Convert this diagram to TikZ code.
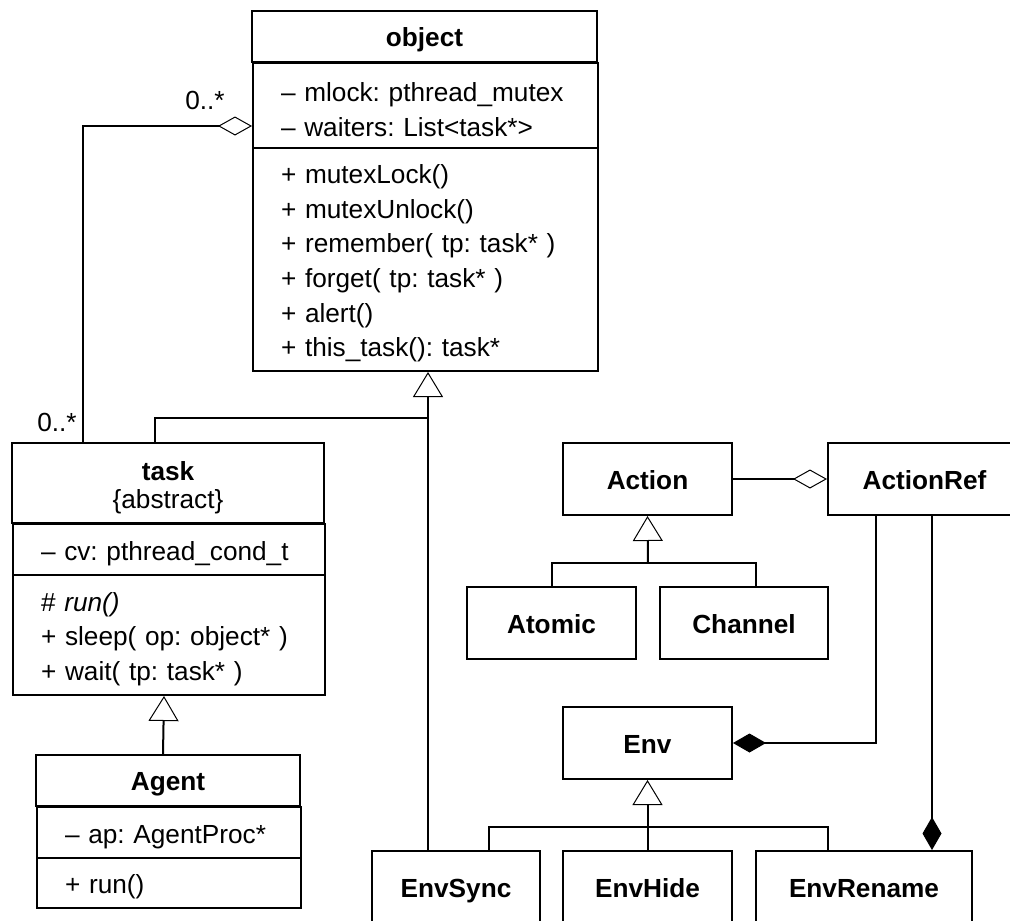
\documentclass[tikz,border=0pt]{standalone}
\usepackage{fontspec}
\setmainfont{Liberation Sans}
\usetikzlibrary{arrows.meta,positioning}
\newcommand{\umlfont}{\fontsize{26.2}{34.6}\selectfont\frenchspacing}
\newcommand{\namefont}{\fontsize{26.2}{34.6}\selectfont\bfseries}
\newcommand{\topstrut}{\rule{0pt}{27pt}}

\begin{document}
\begin{tikzpicture}[x=1pt, y=-1pt, line width=2pt,
  cls/.style={draw, inner sep=0pt, font=\namefont, align=center},
  title/.style={cls, text height=24pt, text depth=4pt},
  part/.style={draw, anchor=north west, inner xsep=28pt, inner ysep=0pt, font=\umlfont, align=left},
  gen/.style={-{Triangle[open, length=25pt, width=30pt, line width=1pt]}},
  agg/.style={-{Diamond[open, length=34pt, width=19pt, line width=1pt]}},
  comp/.style={-{Diamond[length=33pt, width=19pt, line width=1pt]}}]
\useasboundingbox (0,0) rectangle (1010,921);
\clip (0,0) rectangle (1010,921);

\node[title, minimum width=345, minimum height=51] (obj) at (424.5,36.5) {object};
\node[part, text width=289, minimum height=85] (objattr) at (252,62) {\topstrut-- mlock: pthread\_mutex\\-- waiters: List<task*>};
\node[part, text width=289, minimum height=223] (objops) at (252,147) {\topstrut+ mutexLock()\\+ mutexUnlock()\\+ remember( tp: task* )\\+ forget( tp: task* )\\+ alert()\\+ this\_task(): task*};

\node[cls, minimum width=312, minimum height=80] (task) at (168,483) {\rule{0pt}{28pt}task\\[-6.6pt]{\mdseries\{abstract\}}};
\node[part, text width=256, minimum height=51] (taskattr) at (12,523) {\topstrut-- cv: pthread\_cond\_t};
\node[part, text width=256, minimum height=120] (taskops) at (12,574) {\topstrut\# \textit{run()}\\+ sleep( op: object* )\\+ wait( tp: task* )};

\node[title, minimum width=264, minimum height=51] (agent) at (168,780.5) {Agent};
\node[part, text width=208, minimum height=51] (agentattr) at (36,806) {\topstrut-- ap: AgentProc*};
\node[part, text width=208, minimum height=50] (agentops) at (36,857) {\topstrut+ run()};

\node[title, minimum width=169, minimum height=72] (action) at (647.5,479) {Action};
\node[title, minimum width=193, minimum height=72] (actionref) at (924.5,479) {ActionRef};
\node[title, minimum width=169, minimum height=72] (atomic) at (551.5,623) {Atomic};
\node[title, minimum width=168, minimum height=72] (channel) at (744,623) {Channel};
\node[title, minimum width=169, minimum height=72] (env) at (647.5,743) {Env};
\node[title, minimum width=168, minimum height=72] (envsync) at (456,887) {EnvSync};
\node[title, minimum width=169, minimum height=72] (envhide) at (647.5,887) {EnvHide};
\node[title, minimum width=216, minimum height=72] (envrename) at (864,887) {EnvRename};

\node[font=\umlfont] (mobj) at (205,100) {0..*};
\node[font=\umlfont] (mtask) at (57,422) {0..*};

\coordinate (hub) at (428,418);
\coordinate (tj) at (155,418);
\coordinate (ag) at (83,126);
\coordinate (actbar) at (648,563);
\coordinate (envbar) at (648,827);
\coordinate (rc) at (876,743);

\draw[gen] (envsync.north -| hub) -- (objops.south -| hub);
\draw (task.north -| tj) -- (tj) -- (hub);
\draw[agg] (task.north -| ag) -- (ag) -- (objattr.west |- ag);
\draw[gen] ([xshift=-5pt]agent.north) -- ([xshift=-5pt]taskops.south);
\draw (atomic.north) |- (actbar) -| ([xshift=12pt]channel.north);
\draw[gen] (actbar) -- (action.south);
\draw[agg] (action) -- (actionref);
\draw ([xshift=33pt]envsync.north) |- (envbar) -| ([xshift=-36pt]envrename.north);
\draw[gen] (envhide.north) -- (env.south);
\draw[comp] (actionref.south -| rc) |- (env.east);
\draw[comp] ([xshift=7.5pt]actionref.south) -- ([xshift=68pt]envrename.north);
\end{tikzpicture}
\end{document}
